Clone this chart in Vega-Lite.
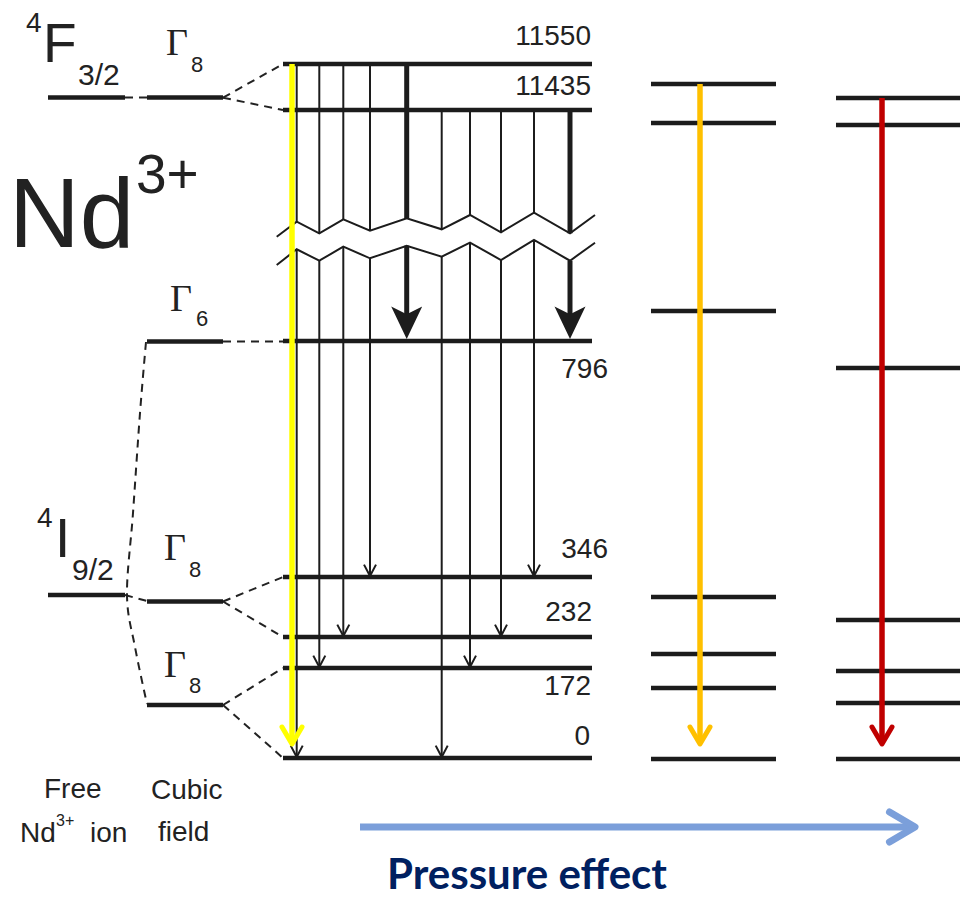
{
  "$schema": "https://vega.github.io/schema/vega-lite/v6.json",
  "width": 967,
  "height": 899,
  "padding": 0,
  "autosize": {"type": "none"},
  "background": "white",
  "config": {"view": {"stroke": null}},
  "encoding": {
    "x": {"field": "x", "type": "quantitative", "scale": {"domain": [0, 967], "nice": false, "zero": false}, "axis": null},
    "y": {"field": "y", "type": "quantitative", "scale": {"domain": [0, 899], "nice": false, "zero": false, "reverse": true}, "axis": null}
  },
  "layer": [
    {
      "data": {"values": [
        {"x": 283, "x2": 592, "y": 64}, {"x": 283, "x2": 592, "y": 110}, {"x": 283, "x2": 592, "y": 341},
        {"x": 283, "x2": 592, "y": 577}, {"x": 283, "x2": 592, "y": 637}, {"x": 283, "x2": 592, "y": 668},
        {"x": 283, "x2": 592, "y": 758},
        {"x": 147, "x2": 223, "y": 97.5}, {"x": 147, "x2": 223, "y": 341.5}, {"x": 147, "x2": 223, "y": 601.5}, {"x": 147, "x2": 223, "y": 705},
        {"x": 48, "x2": 125, "y": 97.5}, {"x": 48, "x2": 125, "y": 595},
        {"x": 651, "x2": 776, "y": 84}, {"x": 651, "x2": 776, "y": 123}, {"x": 651, "x2": 776, "y": 311},
        {"x": 651, "x2": 776, "y": 597}, {"x": 651, "x2": 776, "y": 654}, {"x": 651, "x2": 776, "y": 688},
        {"x": 651, "x2": 776, "y": 759},
        {"x": 836, "x2": 960, "y": 98}, {"x": 836, "x2": 960, "y": 125}, {"x": 836, "x2": 960, "y": 368},
        {"x": 836, "x2": 960, "y": 620}, {"x": 836, "x2": 960, "y": 671}, {"x": 836, "x2": 960, "y": 703},
        {"x": 836, "x2": 960, "y": 759}
      ]},
      "mark": {"type": "rule", "strokeWidth": 4.5, "color": "#1c1c1c"},
      "encoding": {"x2": {"field": "x2"}}
    },
    {
      "data": {"values": [
        {"x": 125, "y": 97.5, "x2": 147, "y2": 97.5},
        {"x": 223, "y": 97.7, "x2": 283, "y2": 64},
        {"x": 223, "y": 97.7, "x2": 283, "y2": 110},
        {"x": 223, "y": 341.5, "x2": 283, "y2": 341.5},
        {"x": 125, "y": 595, "x2": 147, "y2": 601},
        {"x": 223, "y": 601.5, "x2": 283, "y2": 577},
        {"x": 223, "y": 601.5, "x2": 283, "y2": 637},
        {"x": 223, "y": 705, "x2": 283, "y2": 668},
        {"x": 223, "y": 705, "x2": 283, "y2": 758}
      ]},
      "mark": {"type": "rule", "strokeWidth": 2, "strokeDash": [8, 6], "color": "#222222"},
      "encoding": {"x2": {"field": "x2"}, "y2": {"field": "y2"}}
    },
    {
      "data": {"values": [
        {"i": 1, "x": 146, "y": 342}, {"i": 2, "x": 140, "y": 413}, {"i": 3, "x": 133, "y": 513},
        {"i": 4, "x": 127, "y": 595}, {"i": 5, "x": 135, "y": 647}, {"i": 6, "x": 147, "y": 704}
      ]},
      "mark": {"type": "line", "strokeWidth": 2, "strokeDash": [8, 6], "interpolate": "cardinal", "color": "#222222"},
      "encoding": {"order": {"field": "i", "type": "quantitative"}}
    },
    {
      "data": {"values": [
        {"x": 296.7, "y": 64, "y2": 221.7}, {"x": 319.3, "y": 64, "y2": 233.3}, {"x": 343.3, "y": 64, "y2": 219.3},
        {"x": 370, "y": 64, "y2": 230.7}, {"x": 441.7, "y": 110, "y2": 229.3}, {"x": 470, "y": 110, "y2": 215},
        {"x": 501, "y": 110, "y2": 232.3}, {"x": 534, "y": 110, "y2": 212.7},
        {"x": 296.7, "y": 249.3, "y2": 756}, {"x": 319.3, "y": 260.7, "y2": 666}, {"x": 343.3, "y": 246.7, "y2": 635},
        {"x": 370, "y": 258.3, "y2": 575}, {"x": 441.7, "y": 256.7, "y2": 756}, {"x": 470, "y": 242.7, "y2": 666},
        {"x": 501, "y": 260, "y2": 635}, {"x": 534, "y": 240, "y2": 575}
      ]},
      "mark": {"type": "rule", "strokeWidth": 2, "color": "#1c1c1c"},
      "encoding": {"y2": {"field": "y2"}}
    },
    {
      "data": {"values": [
        {"x": 406.7, "y": 64, "y2": 218.3}, {"x": 570, "y": 110, "y2": 233.3},
        {"x": 406.7, "y": 245.7, "y2": 315}, {"x": 570, "y": 260.7, "y2": 315}
      ]},
      "mark": {"type": "rule", "strokeWidth": 5, "color": "#1c1c1c"},
      "encoding": {"y2": {"field": "y2"}}
    },
    {
      "data": {"values": [
        {"g": "a", "x": 276.7, "y": 236.7}, {"g": "a", "x": 296.7, "y": 221.7}, {"g": "a", "x": 319.3, "y": 233.3},
        {"g": "a", "x": 343.3, "y": 219.3}, {"g": "a", "x": 370, "y": 230.7}, {"g": "a", "x": 406.7, "y": 218.3},
        {"g": "a", "x": 441.7, "y": 229.3}, {"g": "a", "x": 470, "y": 215}, {"g": "a", "x": 501, "y": 232.3},
        {"g": "a", "x": 534, "y": 212.7}, {"g": "a", "x": 570, "y": 233.3}, {"g": "a", "x": 595, "y": 215},
        {"g": "b", "x": 276.7, "y": 265}, {"g": "b", "x": 296.7, "y": 249.3}, {"g": "b", "x": 319.3, "y": 260.7},
        {"g": "b", "x": 343.3, "y": 246.7}, {"g": "b", "x": 370, "y": 258.3}, {"g": "b", "x": 406.7, "y": 245.7},
        {"g": "b", "x": 441.7, "y": 256.7}, {"g": "b", "x": 470, "y": 242.7}, {"g": "b", "x": 501, "y": 260},
        {"g": "b", "x": 534, "y": 240}, {"g": "b", "x": 570, "y": 260.7}, {"g": "b", "x": 595, "y": 242.7}
      ]},
      "mark": {"type": "line", "strokeWidth": 2, "color": "#1c1c1c"},
      "encoding": {"detail": {"field": "g"}}
    },
    {
      "data": {"values": [
        {"x": 296.7, "y": 757}, {"x": 319.3, "y": 667}, {"x": 343.3, "y": 636}, {"x": 370, "y": 576},
        {"x": 441.7, "y": 757}, {"x": 470, "y": 667}, {"x": 501, "y": 636}, {"x": 534, "y": 576}
      ]},
      "mark": {"type": "point", "shape": "M-1,-1.9L0,0L1,-1.9", "size": 144, "filled": false, "opacity": 1, "strokeWidth": 2, "color": "#1c1c1c", "strokeJoin": "miter"}
    },
    {
      "data": {"values": [{"x": 406.7, "y": 339}, {"x": 570, "y": 339}]},
      "mark": {"type": "point", "shape": "M0,0L-1,-2.1L0,-1.6L1,-2.1Z", "size": 961, "filled": true, "opacity": 1, "color": "#1c1c1c"}
    },
    {
      "data": {"values": [
        {"s": "yellow", "x": 292, "y": 64, "y2": 743},
        {"s": "orange", "x": 700, "y": 84, "y2": 743},
        {"s": "red", "x": 882, "y": 98, "y2": 743}
      ]},
      "mark": {"type": "rule", "strokeWidth": 5.5},
      "encoding": {
        "y2": {"field": "y2"},
        "color": {"field": "s", "type": "nominal", "scale": {"domain": ["yellow", "orange", "red"], "range": ["#FFFF00", "#FFC000", "#C00000"]}, "legend": null}
      }
    },
    {
      "data": {"values": [
        {"s": "yellow", "x": 292, "y": 744},
        {"s": "orange", "x": 700, "y": 744},
        {"s": "red", "x": 882, "y": 744}
      ]},
      "mark": {"type": "point", "shape": "M-1,-1.7L0,0L1,-1.7", "size": 400, "filled": false, "opacity": 1, "strokeWidth": 5, "strokeCap": "round", "strokeJoin": "round"},
      "encoding": {
        "color": {"field": "s", "type": "nominal", "scale": {"domain": ["yellow", "orange", "red"], "range": ["#FFFF00", "#FFC000", "#C00000"]}, "legend": null}
      }
    },
    {
      "data": {"values": [{"x": 360, "x2": 914, "y": 827}]},
      "mark": {"type": "rule", "strokeWidth": 7, "color": "#7B9FDA"},
      "encoding": {"x2": {"field": "x2"}}
    },
    {
      "data": {"values": [{"x": 915, "y": 827}]},
      "mark": {"type": "point", "shape": "M-1.7,-1L0,0L-1.7,1", "size": 900, "filled": false, "opacity": 1, "strokeWidth": 7, "strokeCap": "round", "strokeJoin": "round", "color": "#7B9FDA"}
    },
    {
      "data": {"values": [
        {"x": 591, "y": 45, "t": "11550"}, {"x": 591, "y": 95, "t": "11435"}, {"x": 608, "y": 378, "t": "796"},
        {"x": 608, "y": 558, "t": "346"}, {"x": 592, "y": 621, "t": "232"}, {"x": 591, "y": 695, "t": "172"},
        {"x": 590, "y": 745, "t": "0"}
      ]},
      "mark": {"type": "text", "font": "Liberation Sans", "fontSize": 28, "align": "right", "baseline": "alphabetic", "color": "#222222"},
      "encoding": {"text": {"field": "t"}}
    },
    {
      "data": {"values": [{"x": 9, "y": 247, "t": "Nd"}]},
      "mark": {"type": "text", "font": "Liberation Sans", "fontSize": 98, "align": "left", "baseline": "alphabetic", "color": "#222222"},
      "encoding": {"text": {"field": "t"}}
    },
    {
      "data": {"values": [{"x": 136, "y": 193, "t": "3+"}]},
      "mark": {"type": "text", "font": "Liberation Sans", "fontSize": 55, "align": "left", "baseline": "alphabetic", "color": "#222222"},
      "encoding": {"text": {"field": "t"}}
    },
    {
      "data": {"values": [{"x": 43, "y": 62, "t": "F"}, {"x": 55, "y": 557, "t": "I"}]},
      "mark": {"type": "text", "font": "Liberation Sans", "fontSize": 55, "align": "left", "baseline": "alphabetic", "color": "#222222"},
      "encoding": {"text": {"field": "t"}}
    },
    {
      "data": {"values": [{"x": 26, "y": 32, "t": "4"}, {"x": 37, "y": 527, "t": "4"}]},
      "mark": {"type": "text", "font": "Liberation Sans", "fontSize": 28, "align": "left", "baseline": "alphabetic", "color": "#222222"},
      "encoding": {"text": {"field": "t"}}
    },
    {
      "data": {"values": [{"x": 78, "y": 85, "t": "3/2"}, {"x": 72, "y": 580, "t": "9/2"}]},
      "mark": {"type": "text", "font": "Liberation Sans", "fontSize": 30, "align": "left", "baseline": "alphabetic", "color": "#222222"},
      "encoding": {"text": {"field": "t"}}
    },
    {
      "data": {"values": [
        {"x": 166, "y": 55, "t": "Γ"}, {"x": 170, "y": 311, "t": "Γ"},
        {"x": 164, "y": 560, "t": "Γ"}, {"x": 164, "y": 677, "t": "Γ"}
      ]},
      "mark": {"type": "text", "font": "Liberation Serif", "fontSize": 38, "align": "left", "baseline": "alphabetic", "color": "#222222"},
      "encoding": {"text": {"field": "t"}}
    },
    {
      "data": {"values": [
        {"x": 191, "y": 72, "t": "8"}, {"x": 196, "y": 326, "t": "6"},
        {"x": 189, "y": 577, "t": "8"}, {"x": 189, "y": 693, "t": "8"}
      ]},
      "mark": {"type": "text", "font": "Liberation Sans", "fontSize": 22, "align": "left", "baseline": "alphabetic", "color": "#222222"},
      "encoding": {"text": {"field": "t"}}
    },
    {
      "data": {"values": [
        {"x": 44, "y": 798, "t": "Free"}, {"x": 151, "y": 799, "t": "Cubic"},
        {"x": 158, "y": 841, "t": "field"}, {"x": 20, "y": 842, "t": "Nd"}, {"x": 90, "y": 842, "t": "ion"}
      ]},
      "mark": {"type": "text", "font": "Liberation Sans", "fontSize": 28, "align": "left", "baseline": "alphabetic", "color": "#222222"},
      "encoding": {"text": {"field": "t"}}
    },
    {
      "data": {"values": [{"x": 56, "y": 826, "t": "3+"}]},
      "mark": {"type": "text", "font": "Liberation Sans", "fontSize": 16, "align": "left", "baseline": "alphabetic", "color": "#222222"},
      "encoding": {"text": {"field": "t"}}
    },
    {
      "data": {"values": [{"x": 527, "y": 898, "t": "Pressure effect"}]},
      "mark": {"type": "text", "font": "Lato", "fontWeight": "bold", "fontSize": 42, "align": "center", "baseline": "bottom", "color": "#002060"},
      "encoding": {"text": {"field": "t"}}
    }
  ]
}
